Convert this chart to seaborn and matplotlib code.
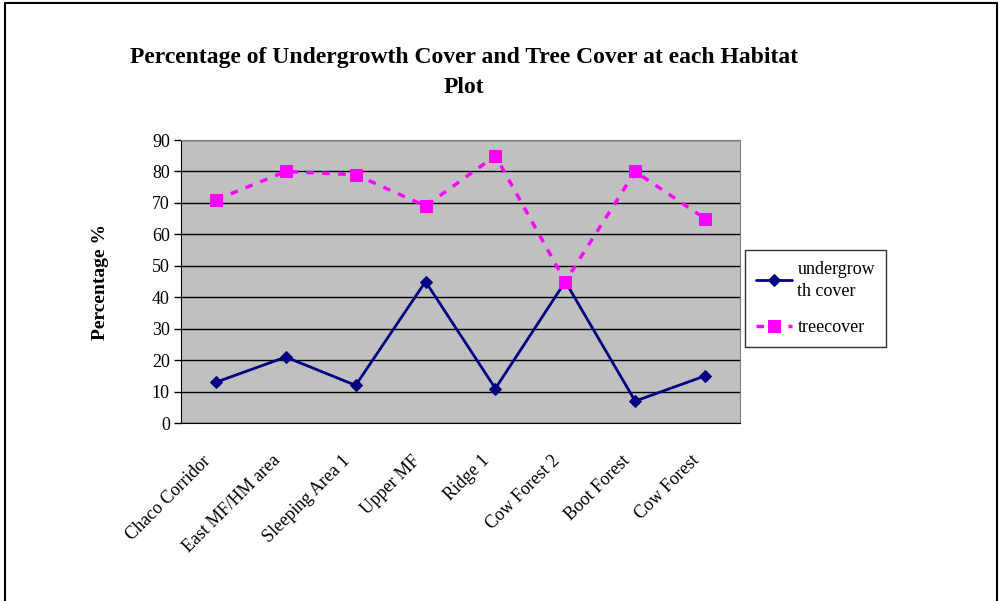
import matplotlib
matplotlib.use("Agg")
import matplotlib.pyplot as plt
import seaborn as sns
import pandas as pd
from matplotlib.lines import Line2D

sites = ['Chaco Corridor', 'East MF/HM area', 'Sleeping Area 1', 'Upper MF',
         'Ridge 1', 'Cow Forest 2', 'Boot Forest', 'Cow Forest']
undergrowth = [13, 21, 12, 45, 11, 45, 7, 15]
treecover = [71, 80, 79, 69, 85, 45, 80, 65]

df = pd.DataFrame({'site': sites, 'undergrowth': undergrowth, 'treecover': treecover})
df['pos'] = range(len(sites))

sns.set_style("white")
plt.rcParams['font.family'] = ['Liberation Serif', 'DejaVu Serif']
for k in ['text.color', 'axes.labelcolor', 'xtick.color', 'ytick.color']:
    plt.rcParams[k] = 'black'

fig = plt.figure(figsize=(10.02, 6.01), dpi=100)
ax = fig.add_axes([0.1806, 0.296, 0.5579, 0.471])
ax.set_facecolor('#C0C0C0')

sns.lineplot(data=df, x='pos', y='undergrowth', ax=ax, color='#000080', linewidth=2,
             marker='D', markersize=6, markeredgecolor='#000080', label='undergrow\nth cover')
sns.lineplot(data=df, x='pos', y='treecover', ax=ax, color='#FF00FF', linewidth=2.5,
             linestyle=(0, (2.2, 2.4)), marker='s', markersize=8, markeredgecolor='#FF00FF',
             label='treecover')

ax.set_xlim(-0.5, len(sites) - 0.5)
ax.set_ylim(0, 90)
ax.set_yticks(range(0, 91, 10))
ax.yaxis.grid(True, color='black', linewidth=1)
ax.set_axisbelow(True)
# labels sit a little left of the category centre (as in the Excel original)
ax.set_xticks([i - 0.2 for i in range(len(sites))])
ax.set_xticklabels(sites, rotation=45, ha='right', rotation_mode='anchor', fontsize=13)
ax.set_xticks([i - 0.5 for i in range(len(sites) + 1)], minor=True)
ax.tick_params(axis='x', which='major', length=0, pad=21)
ax.tick_params(axis='x', which='minor', length=5, width=1, color='black', direction='out')
ax.tick_params(axis='y', length=5, width=1, color='black', direction='out', labelsize=13, left=True, pad=3)
for s in ['top', 'right']:
    ax.spines[s].set_color('#808080')
for s in ['left', 'bottom']:
    ax.spines[s].set_color('black')
ax.set_xlabel('')
ax.set_ylabel('Percentage %', fontsize=14, fontweight='bold', labelpad=31)

fig.suptitle('Percentage of Undergrowth Cover and Tree Cover at each Habitat\nPlot',
             x=0.463, y=0.922, fontsize=17, fontweight='bold', linespacing=1.6)

leg = ax.legend(loc='upper left', bbox_to_anchor=(1.009, 0.611), borderaxespad=0,
                frameon=True, fancybox=False, edgecolor='black', fontsize=13,
                handlelength=2.0, handletextpad=0.3, borderpad=0.6, labelspacing=1.1)
leg.get_frame().set_linewidth(1)
for t in leg.get_texts():
    t.set_linespacing(1.35)

# outer chart border
fig.add_artist(Line2D([0.005, 0.005], [-0.1, 0.995], color='black', linewidth=1.5, transform=fig.transFigure))
fig.add_artist(Line2D([0.005, 0.995], [0.995, 0.995], color='black', linewidth=1.5, transform=fig.transFigure))
fig.add_artist(Line2D([0.995, 0.995], [-0.1, 0.995], color='black', linewidth=1.5, transform=fig.transFigure))

fig.savefig('out.png', dpi=100)
